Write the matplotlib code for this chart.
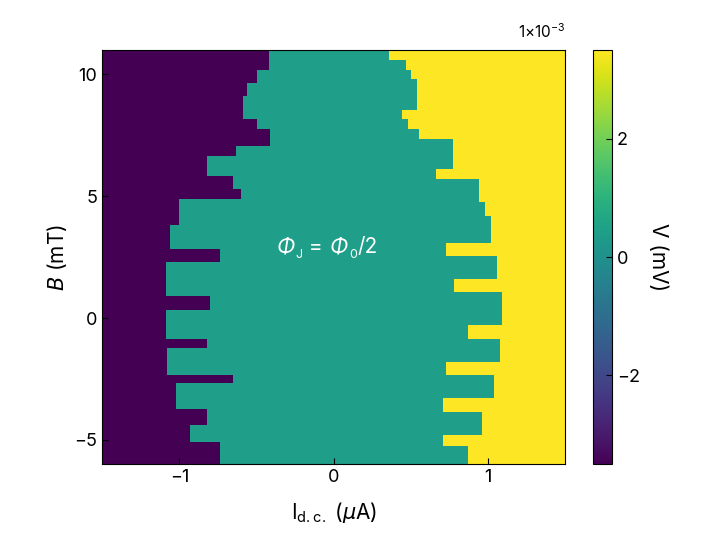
import numpy as np
import matplotlib
matplotlib.use("Agg")
import matplotlib.pyplot as plt
import matplotlib.transforms as mtransforms
from matplotlib.ticker import FuncFormatter

plt.rcParams['font.family'] = 'Inter'
plt.rcParams['mathtext.fontset'] = 'custom'
plt.rcParams['mathtext.rm'] = 'Inter'
plt.rcParams['mathtext.it'] = 'DejaVu Sans:italic'

# Left switching edge: band edges in B (mT, top to bottom) and I (uA) within each band
left_B_edges = [11.0, 10.2, 9.66, 9.11, 8.16, 7.74, 7.06, 6.66, 5.83, 5.29, 4.88, 3.78, 2.83,
                2.28, 0.91, 0.37, -0.86, -1.27, -2.36, -2.64, -3.73, -4.41, -5.1, -6.0]
left_I = [-0.42, -0.50, -0.56, -0.59, -0.50, -0.41, -0.63, -0.82, -0.65, -0.60, -1.00,
          -1.06, -0.74, -1.09, -0.80, -1.09, -0.82, -1.08, -0.65, -1.02, -0.82, -0.93, -0.74]

# Right switching edge
right_B_edges = [11.0, 10.6, 10.2, 9.8, 8.57, 8.16, 7.74, 7.33, 6.1, 5.7, 4.74, 4.2, 3.1, 2.56,
                 1.6, 1.05, -0.3, -0.86, -1.8, -2.36, -3.32, -3.87, -4.82, -5.23, -6.0]
right_I = [0.36, 0.47, 0.50, 0.54, 0.44, 0.48, 0.55, 0.77, 0.66, 0.94, 0.98, 1.02, 0.73,
           1.06, 0.78, 1.09, 0.87, 1.08, 0.73, 1.04, 0.71, 0.96, 0.71, 0.87]

V_low = -3.5e-3
V_mid = 0.4e-3
V_high = 3.5e-3

I = np.linspace(-1.5, 1.5, 301)
B = np.linspace(-6.0, 11.0, 341)
Bc = 0.5 * (B[:-1] + B[1:])
Ic = 0.5 * (I[:-1] + I[1:])

lb = np.array(left_B_edges)[::-1]
rb = np.array(right_B_edges)[::-1]
li = np.array(left_I)[::-1]
ri = np.array(right_I)[::-1]
lidx = np.clip(np.searchsorted(lb, Bc) - 1, 0, len(li) - 1)
ridx = np.clip(np.searchsorted(rb, Bc) - 1, 0, len(ri) - 1)

V = np.full((len(Bc), len(Ic)), V_mid)
V[Ic[None, :] < li[lidx][:, None]] = V_low
V[Ic[None, :] > ri[ridx][:, None]] = V_high

fig = plt.figure(figsize=(7.1, 5.5), dpi=100)
ax = fig.add_axes([0.144, 0.156, 0.652, 0.753])
cax = fig.add_axes([0.835, 0.156, 0.027, 0.753])

mesh = ax.pcolormesh(I, B, V, cmap='viridis', vmin=V_low, vmax=V_high, shading='flat')
ax.set_xlim(-1.5, 1.5)
ax.set_ylim(-6.0, 11.0)
ax.set_xticks([-1, 0, 1])
ax.set_xticklabels(['\u22121', '0', '1'])
ax.set_yticks([-5, 0, 5, 10])
ax.set_yticklabels(['\u22125', '0', '5', '10'])
ax.tick_params(labelsize=13, direction='in', length=4)
ax.set_xlabel(r'I$_{\mathrm{d.c.}}$ ($\mu$A)', fontsize=15, labelpad=10)
ax.set_ylabel(r'$B$ (mT)', fontsize=15)

# annotation with italic Phi, pieces laid out along one baseline
parts = [('\u03a6', 'italic', 15, 0), ('J', 'normal', 9, -3), (' = ', 'normal', 15, 0),
         ('\u03a6', 'italic', 15, 0), ('0', 'normal', 9, -3), ('/2', 'normal', 15, 0)]
renderer = fig.canvas.get_renderer()
dx = 0.0
for txt, sty, size, dy in parts:
    tr = ax.transData + mtransforms.ScaledTranslation(dx / 72, dy / 72, fig.dpi_scale_trans)
    t = ax.text(-0.37, 2.65, txt, color='white', fontsize=size, style=sty,
                va='baseline', ha='left', transform=tr)
    dx += t.get_window_extent(renderer).width * 72 / fig.dpi + 0.5

cb = fig.colorbar(mesh, cax=cax)
cb.set_ticks([-2e-3, 0, 2e-3])
cb.ax.yaxis.set_major_formatter(FuncFormatter(lambda v, p: f'{v * 1e3:.0f}'.replace('-', '\u2212')))
cb.ax.tick_params(labelsize=13, direction='in', length=4)
cb.set_label('V (mV)', fontsize=15, rotation=270, labelpad=20)
fig.text(0.796, 0.925, r'1$\times$10$^{-3}$', fontsize=11, ha='right', va='bottom')

fig.savefig('out.png', dpi=100)
